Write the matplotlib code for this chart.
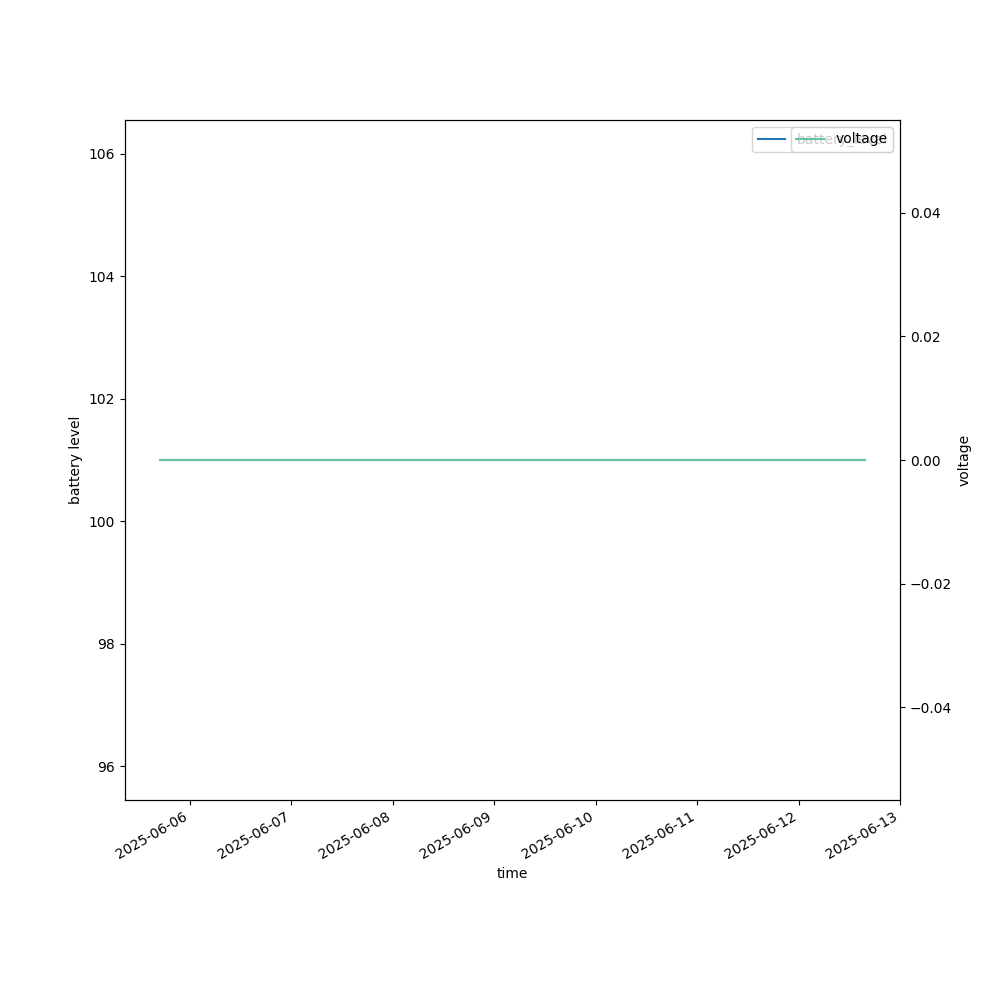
import matplotlib
matplotlib.use("Agg")
import matplotlib.pyplot as plt
import pandas as pd

times = pd.date_range("2025-06-05 17:00", "2025-06-12 15:40", periods=167)
battery_level = [101] * len(times)
voltage = [0] * len(times)

fig, ax = plt.subplots(figsize=(10, 10), dpi=100)
ax.plot(times, battery_level, color="#1f77b4", label="battery_level")
ax.set_xlabel("time")
ax.set_ylabel("battery level")
ax.legend(loc="upper right")

ax2 = ax.twinx()
ax2.plot(times, voltage, color="#66c2a5", label="voltage")
ax2.set_ylabel("voltage")
ax2.legend(loc="upper right")

fig.autofmt_xdate()
fig.savefig("out.png")
